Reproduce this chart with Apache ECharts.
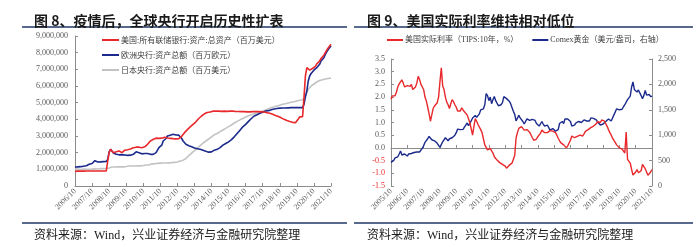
<!DOCTYPE html>
<html>
<head>
<meta charset="utf-8">
<script src="https://cdn.jsdelivr.net/npm/echarts@6/dist/echarts.min.js"></script>
<style>
html,body{margin:0;padding:0;background:#fff;}
#main{width:700px;height:247px;}
</style>
</head>
<body>
<div id="main"></div>
<script>
// 图8：月度，2006/10 - 2021/10，单位：万亿（画图时换成百万）
const cbStart = [2006, 10];
const fedAssets = [
  0.88, 0.88, 0.89,
  0.89, 0.89, 0.89, 0.89, 0.89, 0.9, 0.9, 0.9, 0.9, 0.9, 0.9, 0.9,
  0.9, 0.9, 0.9, 0.9, 0.9, 0.9, 0.9, 0.91, 1.5, 2.0, 2.2, 2.26,
  2.0, 1.92, 2.05, 2.12, 2.1, 2.05, 2.0, 2.05, 2.15, 2.15, 2.18, 2.23,
  2.22, 2.27, 2.3, 2.33, 2.33, 2.35, 2.33, 2.32, 2.3, 2.3, 2.35, 2.42,
  2.5, 2.6, 2.7, 2.75, 2.8, 2.86, 2.87, 2.87, 2.86, 2.86, 2.87, 2.92,
  2.92, 2.9, 2.88, 2.88, 2.86, 2.86, 2.84, 2.82, 2.83, 2.82, 2.84, 2.9,
  2.98, 3.1, 3.2, 3.3, 3.38, 3.45, 3.55, 3.62, 3.7, 3.8, 3.85, 3.95,
  4.05, 4.15, 4.2, 4.27, 4.33, 4.38, 4.41, 4.43, 4.44, 4.48, 4.49, 4.5,
  4.5, 4.49, 4.49, 4.49, 4.48, 4.49, 4.49, 4.49, 4.48, 4.49, 4.49, 4.49,
  4.49, 4.48, 4.47, 4.47, 4.47, 4.47, 4.46, 4.47, 4.46, 4.45, 4.45, 4.45,
  4.45, 4.46, 4.46, 4.47, 4.47, 4.47, 4.46, 4.45, 4.45, 4.45, 4.44, 4.42,
  4.4, 4.38, 4.36, 4.33, 4.3, 4.27, 4.23, 4.2, 4.17, 4.13, 4.09, 4.05,
  4.0, 3.97, 3.93, 3.9, 3.87, 3.85, 3.82, 3.78, 3.8, 3.92, 4.02, 4.15,
  4.17, 4.16, 5.3, 6.6, 7.1, 7.15, 6.95, 6.96, 7.05, 7.12, 7.18, 7.33,
  7.4, 7.5, 7.65, 7.75, 7.85, 8.0, 8.15, 8.28, 8.4, 8.5
];
const ecbAssets = [
  1.12, 1.13, 1.15,
  1.15, 1.16, 1.17, 1.19, 1.2, 1.22, 1.24, 1.3, 1.32, 1.35, 1.38, 1.52,
  1.42, 1.44, 1.45, 1.45, 1.46, 1.46, 1.47, 1.47, 1.6, 2.05, 2.2, 2.15,
  1.98, 1.92, 1.9, 1.88, 1.87, 1.95, 1.88, 1.85, 1.86, 1.85, 1.84, 1.86,
  1.85, 1.87, 1.9, 1.95, 2.05, 2.15, 2.0, 1.96, 1.93, 1.92, 1.95, 2.0,
  1.95, 1.9, 1.9, 1.88, 1.9, 1.95, 2.0, 2.15, 2.3, 2.35, 2.45, 2.7,
  2.75, 2.85, 3.0, 3.02, 3.05, 3.1, 3.1, 3.08, 3.06, 3.05, 3.05, 3.0,
  2.85, 2.7, 2.6, 2.5, 2.45, 2.42, 2.38, 2.35, 2.3, 2.28, 2.26, 2.24,
  2.22, 2.2, 2.18, 2.15, 2.12, 2.08, 2.05, 2.03, 2.02, 2.05, 2.1, 2.15,
  2.18, 2.2, 2.25, 2.3, 2.38, 2.45, 2.5, 2.55, 2.6, 2.65, 2.7, 2.78,
  2.85, 2.95, 3.05, 3.15, 3.25, 3.35, 3.45, 3.55, 3.62, 3.7, 3.78, 3.88,
  3.95, 4.05, 4.15, 4.2, 4.25, 4.28, 4.32, 4.36, 4.4, 4.42, 4.45, 4.5,
  4.5, 4.52, 4.55, 4.58, 4.6, 4.62, 4.63, 4.65, 4.66, 4.67, 4.68, 4.68,
  4.68, 4.68, 4.69, 4.69, 4.69, 4.7, 4.7, 4.7, 4.7, 4.7, 4.71, 4.7,
  4.7, 4.7, 4.9, 5.35, 5.7, 6.3, 6.6, 6.75, 6.85, 6.95, 7.05, 7.1,
  7.15, 7.3, 7.5, 7.6, 7.7, 7.9, 8.05, 8.15, 8.3, 8.42
];
const bojAssets = [
  1.0, 1.0, 1.01,
  1.0, 0.99, 1.0, 1.01, 1.0, 1.0, 1.01, 1.0, 1.02, 1.01, 1.02, 1.03,
  1.03, 1.02, 1.03, 1.04, 1.03, 1.04, 1.05, 1.05, 1.07, 1.08, 1.12, 1.14,
  1.15, 1.14, 1.16, 1.15, 1.14, 1.15, 1.16, 1.15, 1.16, 1.17, 1.17, 1.2,
  1.18, 1.2, 1.21, 1.2, 1.2, 1.21, 1.2, 1.21, 1.22, 1.23, 1.24, 1.26,
  1.25, 1.26, 1.35, 1.33, 1.34, 1.33, 1.35, 1.36, 1.37, 1.37, 1.36, 1.38,
  1.37, 1.38, 1.4, 1.39, 1.38, 1.4, 1.41, 1.42, 1.43, 1.44, 1.46, 1.5,
  1.52, 1.55, 1.58, 1.65, 1.75, 1.82, 1.9, 1.97, 2.05, 2.12, 2.2, 2.28,
  2.35, 2.42, 2.5, 2.57, 2.63, 2.7, 2.76, 2.82, 2.88, 2.95, 3.02, 3.08,
  3.1, 3.15, 3.2, 3.26, 3.31, 3.36, 3.41, 3.46, 3.51, 3.56, 3.61, 3.66,
  3.72, 3.78, 3.83, 3.88, 3.93, 3.97, 4.01, 4.05, 4.1, 4.14, 4.18, 4.22,
  4.25, 4.28, 4.31, 4.34, 4.37, 4.4, 4.42, 4.45, 4.48, 4.5, 4.53, 4.56,
  4.6, 4.63, 4.66, 4.7, 4.72, 4.75, 4.78, 4.8, 4.83, 4.85, 4.88, 4.9,
  4.92, 4.94, 4.96, 4.98, 5.0, 5.02, 5.04, 5.06, 5.08, 5.1, 5.12, 5.14,
  5.15, 5.17, 5.25, 5.4, 5.6, 5.8, 5.92, 6.0, 6.06, 6.12, 6.18, 6.24,
  6.3, 6.33, 6.36, 6.38, 6.4, 6.42, 6.44, 6.45, 6.46, 6.47
];

// 图9：月度，2005/10 - 2021/10
const rateStart = [2005, 10];
const tipsRate = [
  1.92, 2.05, 2.12,
  2.05, 2.2, 2.4, 2.52, 2.6, 2.68, 2.55, 2.4, 2.35, 2.45, 2.38, 2.42,
  2.5, 2.3, 2.25, 2.4, 2.55, 2.82, 2.7, 2.5, 2.45, 2.3, 2.0, 1.85,
  1.6, 1.35, 1.05, 1.3, 1.55, 1.65, 1.7, 1.78, 2.0, 2.6, 3.15, 2.45,
  2.3, 2.0, 1.8, 1.7, 1.55, 1.75, 1.9, 1.82, 1.7, 1.6, 1.45, 1.38,
  1.45, 1.58, 1.5, 1.42, 1.36, 1.3, 1.15, 1.0, 0.75, 0.5, 0.85, 1.15,
  1.05, 0.92, 0.85, 0.72, 0.6, 0.35, 0.12, 0.05, -0.08, -0.05, -0.02, -0.12,
  -0.2, -0.35, -0.4, -0.48, -0.55, -0.58, -0.61, -0.65, -0.67, -0.72, -0.8, -0.75,
  -0.68, -0.62, -0.6, -0.65, -0.3, 0.38, 0.6, 0.77, 0.8, 0.84, 0.78, 0.7,
  0.64, 0.72, 0.7, 0.62, 0.51, 0.4, 0.3, 0.25, 0.35, 0.44, 0.5, 0.58,
  0.7, 0.65, 0.6, 0.57, 0.6, 0.64, 0.68, 0.7, 0.66, 0.64, 0.6, 0.5,
  0.38, 0.28, 0.2, 0.18, 0.12, 0.05, 0.0, 0.08, 0.15, 0.3, 0.47, 0.42,
  0.4, 0.38, 0.45, 0.51, 0.5, 0.46, 0.47, 0.55, 0.65, 0.7, 0.72, 0.75,
  0.8, 0.84, 0.86, 0.87, 0.95, 1.03, 1.05, 1.0, 1.1, 1.12, 1.05, 0.98,
  0.85, 0.72, 0.6, 0.5, 0.38, 0.3, 0.25, 0.12, 0.05, 0.0, 0.05, -0.05,
  -0.05, -0.2, 0.62, -0.45, -0.48, -0.6, -0.85, -1.07, -1.0, -0.95, -0.85, -0.98,
  -1.0, -0.9, -0.65, -0.7, -0.82, -0.8, -1.08, -1.12, -0.95, -0.85
];
const comexGold = [
  465, 480, 505,
  555, 560, 575, 630, 690, 610, 635, 630, 600, 590, 630, 630,
  640, 670, 660, 685, 670, 655, 670, 670, 740, 790, 860, 880,
  930, 975, 990, 910, 895, 890, 900, 840, 820, 760, 780, 870,
  900, 950, 920, 890, 930, 940, 950, 955, 1000, 1050, 1120, 1100,
  1110, 1100, 1115, 1160, 1200, 1240, 1190, 1220, 1280, 1340, 1370, 1390,
  1350, 1380, 1420, 1500, 1500, 1520, 1600, 1820, 1780, 1680, 1750, 1620,
  1700, 1760, 1680, 1650, 1580, 1600, 1600, 1640, 1760, 1750, 1720, 1690,
  1670, 1620, 1590, 1470, 1410, 1280, 1300, 1390, 1340, 1310, 1270, 1220,
  1250, 1320, 1330, 1290, 1270, 1310, 1300, 1290, 1230, 1220, 1180, 1200,
  1270, 1220, 1180, 1190, 1200, 1180, 1100, 1130, 1130, 1160, 1080, 1070,
  1110, 1230, 1240, 1270, 1230, 1320, 1340, 1320, 1320, 1270, 1180, 1150,
  1200, 1240, 1240, 1270, 1260, 1250, 1240, 1300, 1300, 1280, 1285, 1280,
  1340, 1330, 1330, 1330, 1300, 1260, 1230, 1200, 1200, 1220, 1220, 1270,
  1300, 1320, 1300, 1280, 1290, 1400, 1420, 1520, 1510, 1500, 1470, 1510,
  1560, 1600, 1580, 1700, 1730, 1770, 1950, 2050, 1900, 1910, 1850, 1890,
  1860, 1780, 1720, 1780, 1880, 1790, 1810, 1800, 1760, 1770
];

const cbNames = ['美国:所有联储银行:资产:总资产（百万美元）', '欧洲央行:资产总额（百万欧元）', '日本央行:资产总额（百万美元）'];
const rateNames = ['美国实际利率（TIPS:10年，%）', 'Comex黄金（美元/盎司，右轴）'];

const RED = '#E8282B';
const NAVY = '#1B2A8C';
const GREY = '#C3C3C3';
const AXIS = '#8C8C8C';
const LABEL = '#595959';
const LINE = '#1F3864';
const SERIF = "'Liberation Serif', 'Noto Sans CJK SC', serif";
const CJK = "'Noto Sans CJK SC', sans-serif";

const monthLabels = (start, n) => {
  const out = [];
  let y = start[0], m = start[1];
  for (let i = 0; i < n; i++) {
    out.push(y + '/' + m);
    m++;
    if (m > 12) { m = 1; y++; }
  }
  return out;
};

const cbMonths = monthLabels(cbStart, fedAssets.length);
const rateMonths = monthLabels(rateStart, tipsRate.length);
const toMillions = arr => arr.map(v => Math.round(v * 1e6));

const xAxisBase = (gridIndex, data) => ({
  type: 'category',
  gridIndex: gridIndex,
  data: data,
  boundaryGap: false,
  axisLine: { lineStyle: { color: AXIS, width: 1 } },
  axisTick: { interval: 11, inside: true, length: 3, lineStyle: { color: AXIS } },
  axisLabel: { interval: 11, rotate: 45, margin: 4, fontSize: 8, color: LABEL, fontFamily: SERIF },
  splitLine: { show: false }
});

const yAxisBase = {
  axisLine: { show: true, lineStyle: { color: AXIS, width: 1 } },
  axisTick: { show: true, inside: true, length: 3, lineStyle: { color: AXIS } },
  splitLine: { show: false }
};

const lineSeries = (name, data, color, width, xi, yi) => ({
  name: name,
  type: 'line',
  xAxisIndex: xi,
  yAxisIndex: yi,
  data: data,
  showSymbol: false,
  symbol: 'none',
  animation: false,
  lineStyle: { color: color, width: width },
  itemStyle: { color: color }
});

const option = {
  backgroundColor: '#fff',
  animation: false,
  title: [
    { text: '图 8、疫情后，全球央行开启历史性扩表', left: 29, top: 9,
      textStyle: { fontSize: 14, fontWeight: 'bold', color: '#1a1a1a', fontFamily: CJK } },
    { text: '图 9、美国实际利率维持相对低位', left: 362, top: 9,
      textStyle: { fontSize: 14, fontWeight: 'bold', color: '#1a1a1a', fontFamily: CJK } },
    { text: '资料来源：Wind，兴业证券经济与金融研究院整理', left: 29, top: 225,
      textStyle: { fontSize: 12, fontWeight: 'normal', color: '#1a1a1a', fontFamily: SERIF } },
    { text: '资料来源：Wind，兴业证券经济与金融研究院整理', left: 362, top: 225,
      textStyle: { fontSize: 12, fontWeight: 'normal', color: '#1a1a1a', fontFamily: SERIF } }
  ],
  graphic: [
    { type: 'line', shape: { x1: 22, y1: 27, x2: 347, y2: 27 }, style: { stroke: LINE, lineWidth: 1.5 } },
    { type: 'line', shape: { x1: 354, y1: 27, x2: 693, y2: 27 }, style: { stroke: LINE, lineWidth: 1.5 } },
    { type: 'line', shape: { x1: 22, y1: 223, x2: 347, y2: 223 }, style: { stroke: LINE, lineWidth: 1.5 } },
    { type: 'line', shape: { x1: 354, y1: 223, x2: 693, y2: 223 }, style: { stroke: LINE, lineWidth: 1.5 } }
  ],
  legend: [
    { data: cbNames, orient: 'vertical', left: 102, top: 36, padding: 0, itemWidth: 17, itemHeight: 2, itemGap: 7,
      icon: 'rect', textStyle: { fontSize: 8, color: '#404040', fontFamily: CJK, padding: [0, 0, 0, -3] } },
    { data: rateNames, orient: 'horizontal', left: 387, top: 36, padding: 0, itemWidth: 16, itemHeight: 2, itemGap: 14,
      icon: 'rect', textStyle: { fontSize: 8, color: '#404040', fontFamily: SERIF, padding: [0, 0, 0, -3] } }
  ],
  grid: [
    { left: 75, top: 36, width: 256, height: 150 },
    { left: 391, top: 59, width: 261, height: 127 }
  ],
  xAxis: [xAxisBase(0, cbMonths), xAxisBase(1, rateMonths)],
  yAxis: [
    Object.assign({}, yAxisBase, {
      type: 'value', gridIndex: 0, min: 0, max: 9000000, interval: 1000000,
      axisLabel: { fontSize: 8, color: LABEL, fontFamily: SERIF, margin: 7,
        formatter: v => v.toLocaleString('en-US') }
    }),
    Object.assign({}, yAxisBase, {
      type: 'value', gridIndex: 1, min: -1.5, max: 3.5, interval: 0.5,
      axisLabel: { fontSize: 8, fontFamily: SERIF, margin: 6,
        color: v => (Number(v) < 0 ? RED : LABEL),
        formatter: v => v.toFixed(1) }
    }),
    Object.assign({}, yAxisBase, {
      type: 'value', gridIndex: 1, position: 'right', min: 0, max: 2500, interval: 500,
      axisLabel: { fontSize: 8, color: LABEL, fontFamily: SERIF, margin: 6,
        formatter: v => v.toLocaleString('en-US') }
    })
  ],
  series: [
    lineSeries(cbNames[2], toMillions(bojAssets), GREY, 1.6, 0, 0),
    lineSeries(cbNames[1], toMillions(ecbAssets), NAVY, 1.6, 0, 0),
    lineSeries(cbNames[0], toMillions(fedAssets), RED, 1.6, 0, 0),
    lineSeries(rateNames[1], comexGold, NAVY, 1.4, 1, 2),
    lineSeries(rateNames[0], tipsRate, RED, 1.4, 1, 1)
  ]
};

const chart = echarts.init(document.getElementById('main'), null, { renderer: 'canvas' });
chart.setOption(option);
</script>
</body>
</html>
